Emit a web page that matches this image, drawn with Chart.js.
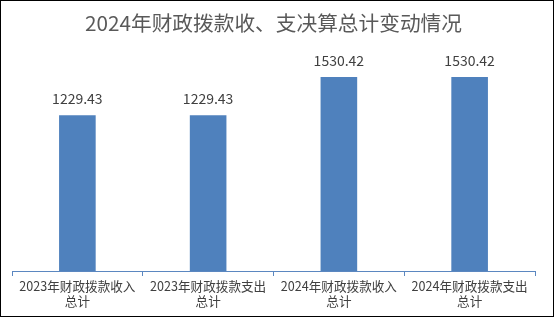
<!DOCTYPE html>
<html>
<head>
<meta charset="utf-8">
<script src="https://cdn.jsdelivr.net/npm/chart.js@4"></script>
<style>
    html, body { margin: 0; padding: 0; background: #fff; }
    #wrap {
        width: 554px;
        height: 317px;
        box-sizing: border-box;
        border: 1px solid #000;
        position: relative;
    }
</style>
</head>
<body>
<div id="wrap"><canvas id="budgetChart"></canvas></div>
<script>
// Chart data
const chartTitle = '2024年财政拨款收、支决算总计变动情况';
const categories = [
    ['2023年财政拨款收入', '总计'],
    ['2023年财政拨款支出', '总计'],
    ['2024年财政拨款收入', '总计'],
    ['2024年财政拨款支出', '总计']
];
const totals = [1229.43, 1229.43, 1530.42, 1530.42];

const fontFamily = '"Noto Sans CJK SC", "Noto Sans", sans-serif';

// value labels above bars
const valueLabels = {
    id: 'valueLabels',
    afterDatasetsDraw(chart) {
        const ctx = chart.ctx;
        const meta = chart.getDatasetMeta(0);
        ctx.save();
        ctx.font = '14px ' + fontFamily;
        ctx.fillStyle = '#404040';
        ctx.textAlign = 'center';
        ctx.textBaseline = 'bottom';
        meta.data.forEach((bar, i) => {
            ctx.fillText(totals[i].toFixed(2), bar.x, bar.y - 9);
        });
        ctx.restore();
    }
};

const ctx = document.getElementById('budgetChart').getContext('2d');
new Chart(ctx, {
    type: 'bar',
    data: {
        labels: categories,
        datasets: [{
            data: totals,
            backgroundColor: '#4F81BD',
            categoryPercentage: 1,
            barPercentage: 0.28
        }]
    },
    options: {
        responsive: true,
        maintainAspectRatio: false,
        animation: false,
        layout: {
            padding: { left: 11, right: 18, top: 0, bottom: 0 }
        },
        plugins: {
            legend: { display: false },
            tooltip: { enabled: false },
            title: {
                display: true,
                text: chartTitle,
                color: '#595959',
                font: { family: fontFamily, size: 20.7, weight: 'normal', lineHeight: 1.2 },
                padding: { top: 10, bottom: 7 }
            }
        },
        scales: {
            x: {
                grid: {
                    offset: true,
                    drawOnChartArea: false,
                    tickLength: 5,
                    color: '#5B87C0'
                },
                border: { color: '#5B87C0' },
                ticks: {
                    color: '#404040',
                    padding: 3,
                    maxRotation: 0,
                    autoSkip: false,
                    font: { family: fontFamily, size: 12.6, lineHeight: 1.2 }
                },
                afterFit(scale) { scale.height = 45; }
            },
            y: {
                display: false,
                min: 0,
                max: 1800
            }
        }
    },
    plugins: [valueLabels]
});
</script>
</body>
</html>
